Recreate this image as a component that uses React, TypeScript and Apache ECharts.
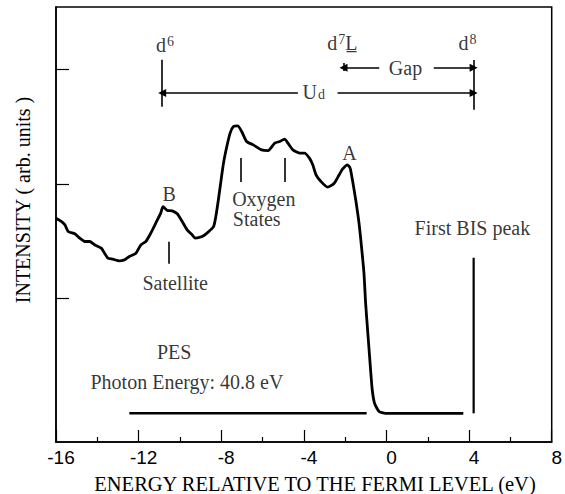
import React, { useEffect, useRef } from 'react';
import * as echarts from 'echarts';

// PES spectrum (energy in eV, intensity in arb. units)
const energy = [
  -16.0, -15.73, -15.57, -15.41, -15.09, -14.85, -14.61, -14.37, -14.13, -13.81,
  -13.65, -13.49, -13.25, -12.93, -12.69, -12.45, -12.13, -11.89, -11.65, -11.41,
  -11.17, -10.93, -10.82, -10.61, -10.37, -10.13, -9.89, -9.65, -9.41, -9.25,
  -8.93, -8.69, -8.37, -8.21, -8.05, -7.89, -7.73, -7.57, -7.41, -7.2,
  -7.01, -6.77, -6.45, -6.05, -5.73, -5.41, -5.17, -4.93, -4.77, -4.53,
  -4.21, -3.97, -3.73, -3.57, -3.41, -3.17, -2.85, -2.53, -2.29, -2.13,
  -1.89, -1.76, -1.65, -1.49, -1.33, -1.21, -1.09, -1.01, -0.89, -0.77,
  -0.69, -0.58, -0.36, -0.05, 0.84, 2.43, 3.72,
];
const intensity = [
  1.7, 1.671, 1.642, 1.584, 1.564, 1.526, 1.497, 1.497, 1.468, 1.439,
  1.395, 1.352, 1.343, 1.328, 1.337, 1.366, 1.395, 1.468, 1.497, 1.57,
  1.657, 1.744, 1.801, 1.767, 1.764, 1.738, 1.671, 1.598, 1.555, 1.526,
  1.54, 1.57, 1.627, 1.773, 1.976, 2.18, 2.324, 2.441, 2.498, 2.504,
  2.455, 2.368, 2.339, 2.295, 2.289, 2.354, 2.368, 2.389, 2.354, 2.295,
  2.267, 2.267, 2.223, 2.165, 2.078, 2.019, 1.97, 2.005, 2.078, 2.127,
  2.165, 2.136, 2.034, 1.86, 1.657, 1.453, 1.221, 0.96, 0.669, 0.379,
  0.205, 0.089, 0.016, 0.0, 0.0, 0.0, 0.0,
];

// Zero-intensity reference line under the PES spectrum
const baselineX = [-12.45, -0.96];
const baselineY = [0, 0];

// First BIS peak (vertical line)
const bisX = [4.22, 4.22];
const bisY = [0, 1.355];

// Axis ticks
const xTicks = [-16, -12, -8, -4, 0, 4, 8];
const yTickValues = [1, 2, 3];

// Annotation segments [x1, y1, x2, y2]; arrows point at (x2, y2)
const arrowSegments = [
  [-4.29, 2.79, -10.86, 2.79],
  [-2.37, 2.79, 4.22, 2.79],
  [-0.35, 3.01, -2.08, 3.01],
  [2.29, 3.01, 4.22, 3.01],
];
const plainSegments = [
  [-10.86, 2.67, -10.86, 3.08],
  [4.22, 2.644, 4.22, 3.079],
  [-2.08, 2.983, -2.08, 3.053],
  [-7.04, 2.016, -7.04, 2.225],
  [-4.93, 2.016, -4.93, 2.225],
  [-10.52, 1.302, -10.52, 1.494],
];

// Text annotations
const labelTexts = [
  'd{sup|6}', 'd{sup|7}L\u0332', 'd{sup|8}', 'U{sub|d}', 'Gap', 'A', 'B',
  'Oxygen', 'States', 'Satellite', 'PES', 'Photon Energy: 40.8 eV', 'First BIS peak',
];
const labelX = [-10.72, -2.14, 3.92, -3.52, 0.92, -1.79, -10.52, -5.94, -6.28, -10.23, -10.28, -9.66, 4.16];
const labelY = [3.21, 3.227, 3.227, 2.8, 3.01, 2.269, 1.912, 1.87, 1.69, 1.137, 0.536, 0.274, 1.616];

const xTitle = 'ENERGY RELATIVE TO THE FERMI LEVEL (eV)';
const yTitle = 'INTENSITY ( arb. units )';

export default function App() {
  const ref = useRef<HTMLDivElement>(null);

  useEffect(() => {
    const chart = echarts.init(ref.current!, null, { renderer: 'svg' });
    const serif = 'Liberation Serif';

    const markData: any[] = [];
    arrowSegments.forEach((s) => {
      markData.push([
        { coord: [s[0], s[1]], symbol: 'none' },
        { coord: [s[2], s[3]], symbol: 'triangle', symbolSize: 8 },
      ]);
    });
    plainSegments.forEach((s) => {
      markData.push([
        { coord: [s[0], s[1]], symbol: 'none' },
        { coord: [s[2], s[3]], symbol: 'none' },
      ]);
    });

    const option: any = {
      animation: false,
      backgroundColor: '#ffffff',
      textStyle: { fontFamily: serif, color: '#000' },
      grid: {
        left: 56,
        right: 9,
        top: 7,
        bottom: 52,
        show: true,
        borderColor: '#000',
        borderWidth: 1.5,
        backgroundColor: 'transparent',
      },
      xAxis: {
        type: 'value',
        min: xTicks[0],
        max: xTicks[xTicks.length - 1],
        interval: 4,
        axisLine: { show: true, onZero: false, lineStyle: { color: '#000', width: 1.5 } },
        axisTick: { show: true, inside: true, length: 12, lineStyle: { color: '#000', width: 1.2 } },
        minorTick: { show: true, splitNumber: 2, length: 5, lineStyle: { color: '#000', width: 1.2 } },
        splitLine: { show: false },
        axisLabel: {
          show: true,
          fontFamily: 'Liberation Sans',
          fontSize: 19,
          color: '#000',
          margin: 6,
          padding: [0, 0, 0, 10],
          showMinLabel: true,
          showMaxLabel: true,
        },
      },
      yAxis: {
        type: 'value',
        min: -0.25,
        max: 3.54,
        axisLine: { show: true, onZero: false, lineStyle: { color: '#000', width: 1.5 } },
        axisTick: {
          show: true,
          inside: true,
          length: 13,
          customValues: yTickValues,
          lineStyle: { color: '#000', width: 1.2 },
        },
        axisLabel: { show: false },
        splitLine: { show: false },
      },
      graphic: [
        {
          type: 'text',
          x: 315,
          y: 484,
          style: {
            text: xTitle,
            fontFamily: serif,
            fontSize: 20.5,
            fill: '#000',
            textAlign: 'center',
            textVerticalAlign: 'middle',
          },
        },
        {
          type: 'text',
          x: 23,
          y: 200,
          rotation: Math.PI / 2,
          style: {
            text: yTitle,
            fontFamily: serif,
            fontSize: 20,
            fill: '#000',
            textAlign: 'center',
            textVerticalAlign: 'middle',
          },
        },
      ],
      series: [
        {
          type: 'line',
          data: energy.map((e, i) => [e, intensity[i]]),
          symbol: 'none',
          smooth: 0.2,
          lineStyle: { color: '#000', width: 2.8 },
          silent: true,
          markLine: {
            silent: true,
            animation: false,
            label: { show: false },
            lineStyle: { color: '#000', width: 1.6, type: 'solid' },
            emphasis: { disabled: true },
            data: markData,
          },
        },
        {
          type: 'line',
          data: baselineX.map((x, i) => [x, baselineY[i]]),
          symbol: 'none',
          lineStyle: { color: '#000', width: 2.6 },
          silent: true,
        },
        {
          type: 'line',
          data: bisX.map((x, i) => [x, bisY[i]]),
          symbol: 'none',
          lineStyle: { color: '#000', width: 2.2 },
          silent: true,
        },
        {
          type: 'scatter',
          data: labelTexts.map((t, i) => [labelX[i], labelY[i], t]),
          symbolSize: 1,
          itemStyle: { color: 'transparent' },
          silent: true,
          label: {
            show: true,
            position: 'inside',
            align: 'center',
            verticalAlign: 'middle',
            fontFamily: serif,
            fontSize: 20,
            color: '#000',
            formatter: (p: any) => p.value[2],
            rich: {
              sup: { fontFamily: serif, fontSize: 14, color: '#000', verticalAlign: 'top', padding: [0, 0, 6, 1] },
              sub: { fontFamily: serif, fontSize: 14, color: '#000', verticalAlign: 'bottom', padding: [4, 0, 0, 1] },
            },
          },
        },
      ],
    };

    chart.setOption(option);
    return () => chart.dispose();
  }, []);

  return (
    <div
      ref={ref}
      style={{ position: 'fixed', left: 0, top: 0, width: 565, height: 494, background: '#fff' }}
    />
  );
}
